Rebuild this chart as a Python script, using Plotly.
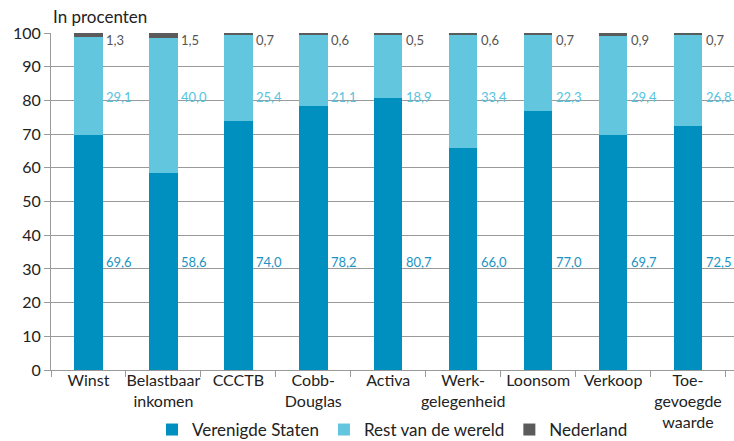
import plotly.graph_objects as go

categories = ["Winst", "Belastbaar<br>inkomen", "CCCTB", "Cobb-<br>Douglas", "Activa",
              "Werk-<br>gelegenheid", "Loonsom", "Verkoop", "Toe-<br>gevoegde<br>waarde"]
verenigde_staten = [69.6, 58.6, 74.0, 78.2, 80.7, 66.0, 77.0, 69.7, 72.5]
rest_van_de_wereld = [29.1, 40.0, 25.4, 21.1, 18.9, 33.4, 22.3, 29.4, 26.8]
nederland = [1.3, 1.5, 0.7, 0.6, 0.5, 0.6, 0.7, 0.9, 0.7]

series = [
    ("Verenigde Staten", verenigde_staten, "#0090bf", "#1a94c4", 32),
    ("Rest van de wereld", rest_van_de_wereld, "#63c6df", "#56c3de", 81),
    ("Nederland", nederland, "#5b5b5b", "#555555", 98),
]

FONT = "Lato"

fig = go.Figure()
annotations = []
for name, vals, color, txtcolor, label_y in series:
    fig.add_trace(go.Bar(
        x=categories, y=vals, name=name, width=0.38,
        marker=dict(color=color, line=dict(width=0)),
    ))
    for cat, v in zip(categories, vals):
        annotations.append(dict(
            x=cat, y=label_y, xref="x", yref="y",
            text=f"{v:.1f}".replace(".", ","),
            showarrow=False, xanchor="left", yanchor="middle", xshift=16,
            font=dict(family=FONT, size=13, color=txtcolor),
        ))

annotations.append(dict(
    x=0, y=1, xref="paper", yref="paper", xanchor="left", yanchor="bottom",
    yshift=4, text="In procenten", showarrow=False,
    font=dict(family=FONT, size=17, color="#222222"),
))

fig.update_layout(
    barmode="stack",
    width=734, height=441,
    margin=dict(l=51, r=0, t=33, b=71),
    plot_bgcolor="white", paper_bgcolor="white",
    font=dict(family=FONT, size=16, color="#222222"),
    annotations=annotations,
    legend=dict(orientation="h", x=0.5, xanchor="center",
                yref="container", y=0.025, yanchor="middle",
                traceorder="normal", font=dict(family=FONT, size=17, color="#222222"),
                itemwidth=30),
)
fig.update_xaxes(
    showline=True, linecolor="#9a9a9a", linewidth=1, automargin=False, tickangle=0,
    ticks="outside", tickson="boundaries", ticklen=6, tickcolor="#9a9a9a",
    ticklabelstandoff=-4,
    tickfont=dict(family=FONT, size=16, color="#222222"),
)
fig.update_yaxes(
    range=[0, 100], dtick=10, showgrid=True, gridcolor="#9a9a9a", gridwidth=1,
    showline=True, linecolor="#9a9a9a", linewidth=1, automargin=False,
    ticks="outside", ticklen=6, tickcolor="#9a9a9a",
    zeroline=False,
    tickfont=dict(family=FONT, size=16, color="#222222"),
)

fig.write_html("out.html")
